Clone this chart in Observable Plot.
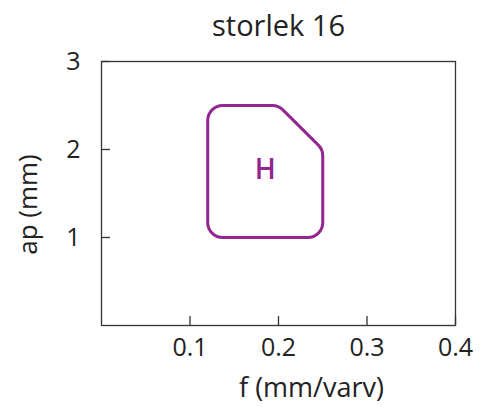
<!DOCTYPE html>
<html>
<head>
<meta charset="utf-8">
<script src="https://cdn.jsdelivr.net/npm/d3@7"></script>
<script src="https://cdn.jsdelivr.net/npm/@observablehq/plot@0.6"></script>
<style>
  html, body { margin: 0; padding: 0; background: #fff; }
  #chart svg { display: block; }
</style>
</head>
<body>
<div id="chart"></div>
<script>
const title = "storlek 16";
const xLabel = "f (mm/varv)";
const yLabel = "ap (mm)";
const xTicks = [0.1, 0.2, 0.3, 0.4];
const yTicks = [1, 2, 3];
// Region "H" outline (corner points, corners drawn rounded)
const regionF = [0.12, 0.12, 0.20, 0.25, 0.25];
const regionAp = [1.0, 2.5, 2.5, 2.0, 1.0];
const regionName = "H";
const regionLabelF = 0.185;
const regionLabelAp = 1.77;

const purple = "#93278f";
const font = "'Open Sans', Lato, sans-serif";

const regionData = regionF.map((f, i) => ({f, ap: regionAp[i]}));

// custom curve: closed polygon with rounded corners
function roundedClosed(radius) {
  return function(context) {
    let pts = [];
    return {
      areaStart() {}, areaEnd() {},
      lineStart() { pts = []; },
      point(x, y) { pts.push([+x, +y]); },
      lineEnd() {
        const n = pts.length;
        if (n < 3) return;
        const a = pts[n - 1], b = pts[0];
        context.moveTo((a[0] + b[0]) / 2, (a[1] + b[1]) / 2);
        for (let i = 0; i < n; i++) {
          const p = pts[i], q = pts[(i + 1) % n];
          context.arcTo(p[0], p[1], q[0], q[1], radius);
        }
        context.closePath();
      }
    };
  };
}

const chart = Plot.plot({
  width: 488,
  height: 407,
  marginLeft: 101,
  marginRight: 33,
  marginTop: 61,
  marginBottom: 82,
  style: {fontFamily: font, background: "#fff", color: "#222"},
  x: {domain: [0, 0.4], label: null},
  y: {domain: [0, 3], label: null},
  marks: [
    Plot.frame({stroke: "#333", strokeWidth: 1.3}),
    Plot.axisX({ticks: xTicks, tickSize: 0, tickPadding: 13, fontSize: 25, tickFormat: d => d.toFixed(1)}),
    Plot.axisX({ticks: xTicks, tickSize: -9, tickFormat: () => "", stroke: "#333", strokeWidth: 1.3}),
    Plot.axisY({ticks: yTicks, tickSize: 0, tickPadding: 21, fontSize: 25, tickFormat: d => String(d)}),
    Plot.axisY({ticks: yTicks, tickSize: -9, tickFormat: () => "", stroke: "#333", strokeWidth: 1.3}),
    Plot.line(regionData, {x: "f", y: "ap", stroke: purple, strokeWidth: 3, curve: roundedClosed(15)}),
    Plot.text([regionName], {x: () => regionLabelF, y: () => regionLabelAp, text: d => d, fill: purple, fontSize: 28, fontWeight: 600}),
    Plot.text([title], {frameAnchor: "top", dy: -35, lineAnchor: "middle", textAnchor: "middle", text: d => d, fontSize: 29, fill: "#222", letterSpacing: 0.6}),
    Plot.text([xLabel], {frameAnchor: "bottom", dx: 33, dy: 63, lineAnchor: "middle", textAnchor: "middle", text: d => d, fontSize: 27, fill: "#222"}),
    Plot.text([yLabel], {frameAnchor: "left", dx: -73, dy: 11, lineAnchor: "middle", textAnchor: "middle", rotate: -90, text: d => d, fontSize: 26, fill: "#222"})
  ]
});
document.getElementById("chart").appendChild(chart);
</script>
</body>
</html>
